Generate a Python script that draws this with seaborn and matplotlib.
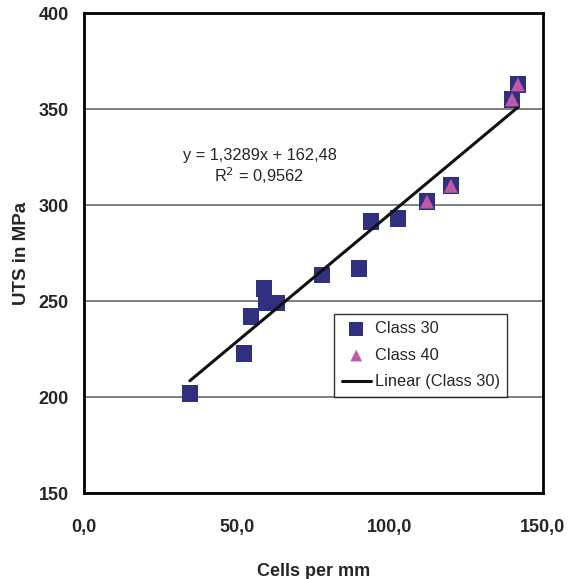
import matplotlib
matplotlib.use("Agg")
import matplotlib.pyplot as plt
import matplotlib.ticker as mticker
import seaborn as sns
import numpy as np
import pandas as pd

# data
class30_x = [34.6, 52.3, 54.6, 58.8, 59.5, 63.1, 77.8, 89.9, 93.8, 102.6]
class30_y = [202.0, 222.5, 242.0, 256.5, 249.0, 249.0, 263.5, 267.0, 291.5, 293.0]
class40_x = [112.1, 119.9, 139.9, 141.8]
class40_y = [301.8, 310.0, 355.0, 362.8]
slope = 1.3289
intercept = 162.48
eq_text = "y = 1,3289x + 162,48"
r2_text = "R$^2$ = 0,9562"

sns.set_style("white")
plt.rcParams["font.family"] = ["Liberation Sans", "DejaVu Sans"]

# squares drawn at every point (Class 40 points also carry a square)
all_x = class30_x + class40_x
all_y = class30_y + class40_y
df30 = pd.DataFrame({"x": all_x, "y": all_y})
df40 = pd.DataFrame({"x": class40_x, "y": class40_y})
xfit = np.array([min(all_x), max(all_x)])
dfit = pd.DataFrame({"x": xfit, "y": slope * xfit + intercept})

fig = plt.figure(figsize=(5.73, 5.79), dpi=100)
ax = fig.add_axes([0.1466, 0.1485, 0.801, 0.829])

sns.scatterplot(data=df30, x="x", y="y", marker="s", s=145, color="#2f3180",
                edgecolor="none", ax=ax, label="Class 30", zorder=3)
sns.lineplot(data=dfit, x="x", y="y", color="#111111", linewidth=2.2, ax=ax,
             label="Linear (Class 30)", zorder=4)
sns.scatterplot(data=df40, x="x", y="y", marker="^", s=100, color="#c058a8",
                edgecolor="none", ax=ax, label="Class 40", zorder=5)

ax.set_xlim(0, 150)
ax.set_ylim(150, 400)
ax.set_xticks([0, 50, 100, 150])
ax.set_yticks([150, 200, 250, 300, 350, 400])
ax.xaxis.set_major_formatter(mticker.FuncFormatter(lambda v, p: f"{v:.1f}".replace(".", ",")))
ax.yaxis.grid(True, color="#808080", linewidth=1.4)
ax.xaxis.grid(False)
ax.set_axisbelow(True)
for s in ax.spines.values():
    s.set_color("black")
    s.set_linewidth(2)
ax.tick_params(axis="both", direction="out", length=6, width=1, color="#333333",
               labelsize=13, pad=5)
ax.tick_params(axis="x", pad=13)
for lab in ax.get_xticklabels() + ax.get_yticklabels():
    lab.set_fontweight("bold")

ax.set_xlabel("Cells per mm", fontsize=13, fontweight="bold", labelpad=19)
ax.set_ylabel("UTS in MPa", fontsize=13.5, fontweight="bold", labelpad=6)

ax.text(57.5, 326, eq_text, fontsize=11.8, ha="center", va="center")
ax.text(57, 315.5, r2_text, fontsize=11.8, ha="center", va="center")

h, l = ax.get_legend_handles_labels()
order = [l.index("Class 30"), l.index("Class 40"), l.index("Linear (Class 30)")]
leg = ax.legend([h[i] for i in order], [l[i] for i in order], loc="upper left",
                bbox_to_anchor=(0.545, 0.373), frameon=True, fancybox=False,
                edgecolor="black", fontsize=11.8, handlelength=1.8,
                borderpad=0.45, labelspacing=0.7, handletextpad=0.25,
                borderaxespad=0, markerscale=0.85)
leg.get_frame().set_linewidth(1)

fig.savefig("out.png", dpi=100)
